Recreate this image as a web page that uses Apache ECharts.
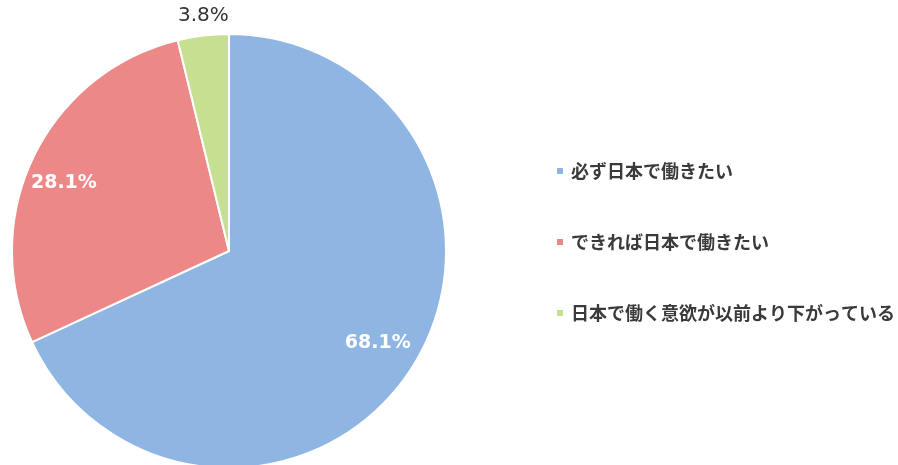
<!DOCTYPE html>
<html>
<head>
<meta charset="utf-8">
<script src="https://cdn.jsdelivr.net/npm/echarts@6/dist/echarts.min.js"></script>
<style>
  html, body { margin: 0; padding: 0; background: #fff; }
  #container { width: 898px; height: 465px; }
</style>
</head>
<body>
<div id="container"></div>
<script>
const categories = ['必ず日本で働きたい', 'できれば日本で働きたい', '日本で働く意欲が以前より下がっている'];
const values = [68.1, 28.1, 3.8];
const colors = ['#8fb6e3', '#ed8888', '#c6df90'];

let chart = echarts.init(document.getElementById('container'));

const pieCenter = [229, 251];
const pieRadius = 217;

function pctLabel(p) {
  return p.value.toFixed(1) + '%';
}

// main slices
const mainData = categories.map((name, i) => ({
  name: name,
  value: values[i],
  itemStyle: { color: colors[i] },
}));

// transparent copies, only used to put the labels further out than 'inside'
const innerLabelData = values.map((v, i) => ({
  name: 'in' + i,
  value: v,
  label: { show: i < 2, offset: i === 1 ? [-6, 9] : [0, -3] },
}));
const outerLabelData = values.map((v, i) => ({
  name: 'out' + i,
  value: v,
  label: { show: i === 2 },
}));

let option = {
  animation: false,
  legend: {
    data: categories,
    orient: 'vertical',
    left: 550,
    top: 157,
    itemGap: 53,
    icon: 'rect',
    itemWidth: 8,
    itemHeight: 8,
    selectedMode: false,
    textStyle: {
      fontFamily: 'Noto Sans CJK JP',
      fontSize: 18,
      fontWeight: 'bold',
      color: '#3a3a3a',
      padding: [0, 0, 0, 2],
    },
  },
  series: [
    {
      type: 'pie',
      center: pieCenter,
      radius: [0, pieRadius],
      startAngle: 90,
      clockwise: true,
      silent: true,
      itemStyle: { borderColor: '#fff', borderWidth: 2 },
      label: { show: false },
      labelLine: { show: false },
      data: mainData,
    },
    {
      type: 'pie',
      center: pieCenter,
      radius: [0, pieRadius * 1.6],
      startAngle: 90,
      silent: true,
      itemStyle: { color: 'rgba(0,0,0,0)', borderWidth: 0 },
      label: {
        position: 'inside',
        formatter: pctLabel,
        color: '#fff',
        fontFamily: 'DejaVu Sans',
        fontWeight: 'bold',
        fontSize: 19,
      },
      labelLine: { show: false },
      data: innerLabelData,
    },
    {
      type: 'pie',
      center: pieCenter,
      radius: [0, (pieRadius + 20) * 2],
      startAngle: 90,
      silent: true,
      itemStyle: { color: 'rgba(0,0,0,0)', borderWidth: 0 },
      label: {
        position: 'inside',
        formatter: pctLabel,
        offset: [3, 3],
        color: '#333',
        fontFamily: 'DejaVu Sans',
        fontSize: 20,
      },
      labelLine: { show: false },
      data: outerLabelData,
    },
  ],
};

chart.setOption(option);
</script>
</body>
</html>
